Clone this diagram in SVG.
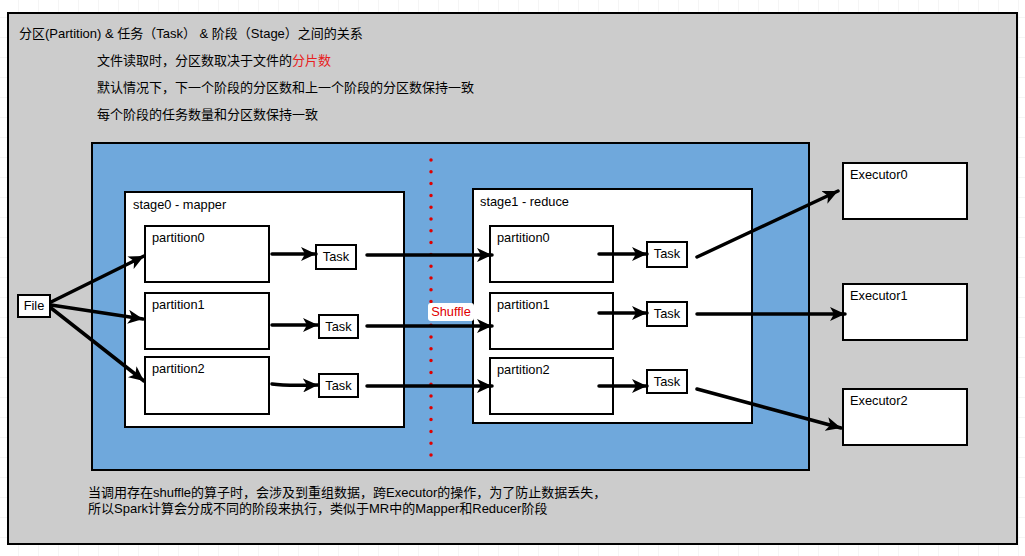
<svg xmlns="http://www.w3.org/2000/svg" width="1025" height="556" viewBox="0 0 1025 556">
<defs>
<pattern id="grid" width="20" height="20" patternUnits="userSpaceOnUse" x="-1" y="-2">
<rect width="20" height="20" fill="#ffffff"/>
<path d="M20 0V20M0 20H20" fill="none" stroke="#ececec" stroke-width="1"/>
</pattern>
<marker id="ah" markerUnits="userSpaceOnUse" markerWidth="16" markerHeight="14" refX="15" refY="7" orient="auto">
<path d="M0,0 L15,7 L0,14 L4,7 Z" fill="#000"/>
</marker>
<style>
.t{font-family:"Liberation Sans","Noto Sans CJK SC",sans-serif;font-size:12.8px;fill:#000}
.h{font-family:"Liberation Sans","Noto Sans CJK SC",sans-serif;font-size:13px;fill:#000}
.box{fill:#fff;stroke:#000;stroke-width:2}
.c{fill:none;stroke:#000;stroke-width:3.5;stroke-linecap:round}
</style>
</defs>
<rect width="1025" height="556" fill="url(#grid)"/>
<g id="frame">
<rect x="8" y="13" width="1009" height="531" fill="#cccccc" stroke="#000" stroke-width="2"/>
<text class="h" x="19" y="38">分区(Partition) &amp; 任务（Task） &amp; 阶段（Stage）之间的关系</text>
<text class="h" x="97" y="65">文件读取时，分区数取决于文件的<tspan fill="#e82020">分片数</tspan></text>
<text class="h" x="97" y="92">默认情况下，下一个阶段的分区数和上一个阶段的分区数保持一致</text>
<text class="h" x="97" y="119">每个阶段的任务数量和分区数保持一致</text>
<text class="h" x="88" y="497">当调用存在shuffle的算子时，会涉及到重组数据，跨Executor的操作，为了防止数据丢失，</text>
<text class="h" x="88" y="513">所以Spark计算会分成不同的阶段来执行，类似于MR中的Mapper和Reducer阶段</text>
</g>
<g id="cluster">
<rect x="92" y="143" width="717" height="327" fill="#6fa8dc" stroke="#000" stroke-width="2"/>
<line x1="431" y1="160" x2="431" y2="466" stroke="#e00000" stroke-width="3.5" stroke-linecap="round" stroke-dasharray="0 11.8"/>
</g>
<g id="stage0">
<rect class="box" x="125" y="192" width="279" height="235"/>
<text class="t" x="133" y="209">stage0 - mapper</text>
</g>
<g id="stage1">
<rect class="box" x="473" y="189" width="279" height="234"/>
<text class="t" x="480" y="206">stage1 - reduce</text>
</g>
<g id="file"><rect class="box" x="18" y="295" width="32" height="22"/><text class="t" x="34" y="310" text-anchor="middle">File</text></g>
<g id="s0p0"><rect class="box" x="145" y="226" width="124" height="56"/><text class="t" x="152" y="242">partition0</text></g>
<g id="s0p1"><rect class="box" x="145" y="293" width="124" height="56"/><text class="t" x="152" y="309">partition1</text></g>
<g id="s0p2"><rect class="box" x="145" y="357" width="124" height="57"/><text class="t" x="152" y="373">partition2</text></g>
<g id="s0t0"><rect class="box" x="316" y="245" width="40" height="24"/><text class="t" x="336" y="261" text-anchor="middle">Task</text></g>
<g id="s0t1"><rect class="box" x="319" y="315" width="39" height="23"/><text class="t" x="338.5" y="331" text-anchor="middle">Task</text></g>
<g id="s0t2"><rect class="box" x="319" y="374" width="39" height="23"/><text class="t" x="338.5" y="390" text-anchor="middle">Task</text></g>
<g id="s1p0"><rect class="box" x="490" y="226" width="123" height="56"/><text class="t" x="497" y="242">partition0</text></g>
<g id="s1p1"><rect class="box" x="490" y="293" width="123" height="56"/><text class="t" x="497" y="309">partition1</text></g>
<g id="s1p2"><rect class="box" x="490" y="358" width="123" height="56"/><text class="t" x="497" y="374">partition2</text></g>
<g id="s1t0"><rect class="box" x="647" y="242" width="40" height="25"/><text class="t" x="667" y="258" text-anchor="middle">Task</text></g>
<g id="s1t1"><rect class="box" x="647" y="302" width="40" height="24"/><text class="t" x="667" y="318" text-anchor="middle">Task</text></g>
<g id="s1t2"><rect class="box" x="647" y="370" width="40" height="23"/><text class="t" x="667" y="386" text-anchor="middle">Task</text></g>
<g id="e0"><rect class="box" x="843" y="163" width="124" height="56"/><text class="t" x="850" y="179">Executor0</text></g>
<g id="e1"><rect class="box" x="843" y="284" width="124" height="56"/><text class="t" x="850" y="300">Executor1</text></g>
<g id="e2"><rect class="box" x="843" y="389" width="124" height="56"/><text class="t" x="850" y="405">Executor2</text></g>
<g id="connectors">
<path class="c" marker-end="url(#ah)" d="M51,302 L144,256"/>
<path class="c" marker-end="url(#ah)" d="M51,305 L143,319"/>
<path class="c" marker-end="url(#ah)" d="M51,308 L144,381"/>
<path class="c" marker-end="url(#ah)" d="M272,254 L316,254"/>
<path class="c" marker-end="url(#ah)" d="M272,325 L318,325"/>
<path class="c" marker-end="url(#ah)" d="M272,384 Q285,386 318,385"/>
<path class="c" marker-end="url(#ah)" d="M367,255 L492,255"/>
<path class="c" marker-end="url(#ah)" d="M367,326 L492,326"/>
<path class="c" marker-end="url(#ah)" d="M367,386 L492,386"/>
<path class="c" marker-end="url(#ah)" d="M599,254 L647,254"/>
<path class="c" marker-end="url(#ah)" d="M599,313 L647,313"/>
<path class="c" marker-end="url(#ah)" d="M599,386 L647,386"/>
<path class="c" marker-end="url(#ah)" d="M697,257 L838,191"/>
<path class="c" marker-end="url(#ah)" d="M697,314 L845,314"/>
<path class="c" marker-end="url(#ah)" d="M697,389 L841,428"/>
</g>
<g id="shuffle">
<rect x="428" y="303" width="46" height="18" rx="3" fill="#fff"/>
<text class="t" x="451" y="316" text-anchor="middle" style="fill:#e00000">Shuffle</text>
</g>
</svg>
